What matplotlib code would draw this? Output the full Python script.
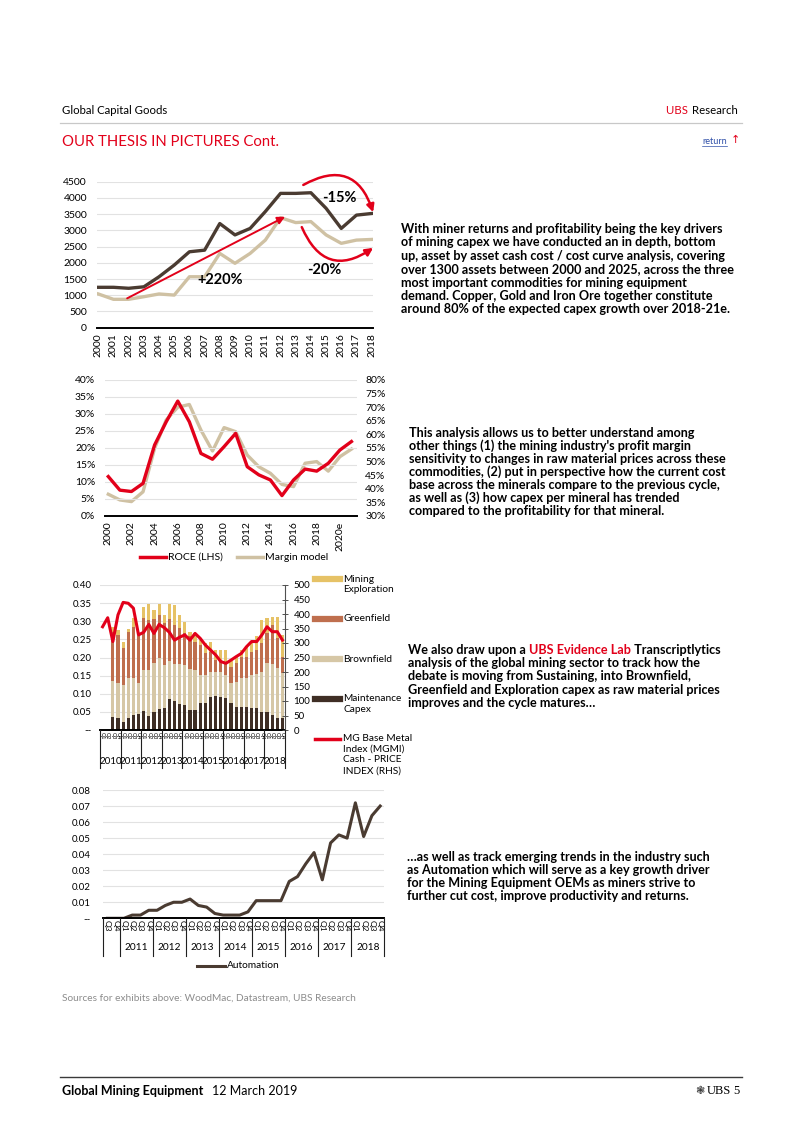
import matplotlib
matplotlib.use('Agg')
import matplotlib.pyplot as plt
from matplotlib.lines import Line2D
from matplotlib.transforms import blended_transform_factory
import numpy as np

W, H = 802, 1133
NARROW = ['Liberation Sans Narrow', 'Lato', 'DejaVu Sans']
REG = ['Lato', 'DejaVu Sans']
plt.rcParams['font.family'] = REG

# ---------------- data ----------------
# Chart 1: capex (US$)
years_capex = list(range(2000, 2019))
capex_dark = [1245, 1245, 1215, 1260, 1570, 1930, 2340, 2390, 3210, 2860, 3060,
              3580, 4140, 4140, 4160, 3680, 3060, 3470, 3520]
capex_light = [1040, 875, 875, 955, 1040, 1005, 1570, 1570, 2290, 1985, 2290,
               2700, 3390, 3240, 3270, 2860, 2600, 2700, 2720]

# Chart 2: ROCE vs margin model
years_roce = list(range(2000, 2022))
roce = [11.6, 7.6, 7.2, 9.6, 20.9, 27.7, 33.8, 27.7, 18.4, 16.7, 20.4, 24.3,
        14.5, 12.1, 10.6, 6.0, 10.6, 13.8, 13.2, 15.5, 19.4, 21.9]
margin_model = [38.0, 35.9, 35.3, 38.9, 54.9, 65.3, 70.0, 71.0, 61.6, 53.9, 62.5,
                61.0, 52.4, 48.1, 45.7, 41.6, 40.8, 49.4, 50.0, 46.5, 51.8, 54.6]
roce_ticks = [2000, 2002, 2004, 2006, 2008, 2010, 2012, 2014, 2016, 2018, 2020]
roce_ticklabels = ['2000', '2002', '2004', '2006', '2008', '2010', '2012', '2014',
                   '2016', '2018', '2020e']

# Chart 3: capex mentions by type (Q3 2010 - Q4 2018) and MGMI index (Q1 2010 - Q4 2018)
cap_years = ['2010', '2011', '2012', '2013', '2014', '2015', '2016', '2017', '2018']
quarters = ['Q1', 'Q2', 'Q3', 'Q4']
maintenance = [0.037, 0.032, 0.023, 0.034, 0.041, 0.044, 0.053, 0.040, 0.051, 0.058,
               0.062, 0.086, 0.080, 0.071, 0.069, 0.055, 0.055, 0.074, 0.075, 0.092,
               0.094, 0.092, 0.087, 0.074, 0.063, 0.064, 0.064, 0.060, 0.062, 0.051,
               0.051, 0.041, 0.034, 0.034]
brownfield = [0.098, 0.097, 0.101, 0.109, 0.103, 0.087, 0.113, 0.126, 0.133, 0.140,
              0.117, 0.103, 0.101, 0.110, 0.110, 0.112, 0.111, 0.078, 0.077, 0.069,
              0.065, 0.069, 0.065, 0.055, 0.070, 0.079, 0.079, 0.092, 0.092, 0.110,
              0.133, 0.140, 0.138, 0.122]
greenfield = [0.135, 0.133, 0.103, 0.128, 0.141, 0.127, 0.142, 0.138, 0.122, 0.119,
              0.115, 0.116, 0.109, 0.101, 0.088, 0.091, 0.078, 0.083, 0.060, 0.053,
              0.034, 0.032, 0.032, 0.046, 0.051, 0.059, 0.059, 0.064, 0.067, 0.078,
              0.083, 0.109, 0.081, 0.046]
exploration = [0.015, 0.014, 0.017, 0.009, 0.023, 0.009, 0.032, 0.043, 0.025, 0.030,
               0.023, 0.042, 0.055, 0.035, 0.032, 0.013, 0.023, 0.013, 0.027, 0.030,
               0.028, 0.028, 0.037, 0.014, 0.018, 0.019, 0.028, 0.028, 0.037, 0.065,
               0.041, 0.023, 0.060, 0.060]
mgmi = [356, 387, 305, 397, 440, 437, 420, 328, 337, 364, 333, 364, 353, 337, 310,
        320, 328, 310, 333, 316, 293, 276, 259, 236, 230, 241, 253, 264, 287, 305,
        305, 328, 356, 339, 339, 310]

# Chart 4: Automation mentions (Q3 2010 - Q4 2018)
auto_years = ['', '2011', '2012', '2013', '2014', '2015', '2016', '2017', '2018']
automation = [0.000, 0.000, 0.000, 0.002, 0.002, 0.005, 0.005, 0.008, 0.010, 0.010,
              0.012, 0.008, 0.007, 0.003, 0.002, 0.002, 0.002, 0.004, 0.011, 0.011,
              0.011, 0.011, 0.023, 0.026, 0.034, 0.041, 0.024, 0.047, 0.052, 0.050,
              0.072, 0.051, 0.064, 0.070]

# ---------------- style ----------------
RED = '#E2001A'
DARK = '#4A3B31'
TAN = '#CFC1A3'
GRID = '#E2E2E2'
C_EXPL = '#E6C266'
C_GREEN = '#BF6F4E'
C_BROWN = '#D6C7A6'
C_MAINT = '#3F2E25'

fig = plt.figure(figsize=(W / 100, H / 100), dpi=100)


def add_ax(l, t, r, b):
    return fig.add_axes([l / W, 1 - b / H, (r - l) / W, (b - t) / H])


def T(x, y, s, size, ha='left', va='center', color='black', weight='normal',
      family=REG, **kw):
    return fig.text(x / W, 1 - y / H, s, fontsize=size, ha=ha, va=va, color=color,
                    fontweight=weight, family=family, **kw)


def hline(x0, x1, y, color, lw):
    fig.add_artist(Line2D([x0 / W, x1 / W], [1 - y / H, 1 - y / H], color=color, lw=lw))


def clean(ax):
    for s in ['top', 'right', 'left']:
        ax.spines[s].set_visible(False)
    ax.spines['bottom'].set_color('black')
    ax.spines['bottom'].set_linewidth(1.4)
    ax.tick_params(length=0)
    ax.grid(axis='y', color=GRID, lw=0.8)
    ax.set_axisbelow(True)


# ---------------- header ----------------
T(62, 110, 'Global Capital Goods', 8.2, family=NARROW)
t_res = T(738, 110, 'Research', 8.2, ha='right', family=NARROW)
fig.canvas.draw()
r = fig.canvas.get_renderer()
bb = t_res.get_window_extent(renderer=r)
T(bb.x0 - 1, 110, 'UBS ', 8.2, ha='right', color=RED, family=NARROW)
hline(60, 742, 123, '#C8C8C8', 0.9)
T(62, 142, 'OUR THESIS IN PICTURES Cont.', 10.7, color=RED, family=NARROW)
t_ret = T(727, 141, 'return', 6.5, ha='right', color='#2F4FA8', family=NARROW)
bb = t_ret.get_window_extent(renderer=r)
hline(bb.x0, bb.x1, 146, '#2F4FA8', 0.5)
T(735, 140, '↑', 8, ha='center', color=RED, family=['DejaVu Sans'])

# ---------------- chart 1 ----------------
ax1 = add_ax(96.7, 181.7, 373, 327.7)
clean(ax1)
ax1.plot(years_capex, capex_light, color=TAN, lw=2.4, solid_joinstyle='round')
ax1.plot(years_capex, capex_dark, color=DARK, lw=2.4, solid_joinstyle='round')
ax1.set_xlim(1999.895, 2018.09)
ax1.set_ylim(0, 4500)
ax1.set_yticks(np.arange(0, 4501, 500))
ax1.set_xticks(years_capex)
ax1.set_xticklabels([str(y) for y in years_capex], rotation=90, fontsize=7.5)
ax1.tick_params(axis='y', labelsize=7.5, pad=7)
ax1.tick_params(axis='x', pad=4)
ax1.annotate('', xy=(2012.3, 3420), xytext=(2001.9, 905), annotation_clip=False,
             arrowprops=dict(arrowstyle='-|>', color=RED, lw=1.4, mutation_scale=11,
                             shrinkA=0, shrinkB=0))
ax1.annotate('', xy=(2018.1, 3560), xytext=(2013.5, 4400), annotation_clip=False,
             arrowprops=dict(arrowstyle='-|>', color=RED, lw=1.8, mutation_scale=11,
                             shrinkA=0, shrinkB=0, connectionstyle='arc3,rad=-0.6'))
ax1.annotate('', xy=(2018.1, 2460), xytext=(2013.4, 3100), annotation_clip=False,
             arrowprops=dict(arrowstyle='-|>', color=RED, lw=1.8, mutation_scale=11,
                             shrinkA=0, shrinkB=0, connectionstyle='arc3,rad=0.6'))
ax1.text(2008.0, 1470, '+220%', fontsize=10.5, fontweight='bold', ha='center', va='center')
ax1.text(2015.9, 3990, '-15%', fontsize=10.5, fontweight='bold', ha='center', va='center')
ax1.text(2014.9, 1790, '-20%', fontsize=10.5, fontweight='bold', ha='center', va='center')

# ---------------- chart 2 ----------------
ax2 = add_ax(105, 380, 357, 516)
clean(ax2)
ax2r = ax2.twinx()
for s in ['top', 'right', 'left', 'bottom']:
    ax2r.spines[s].set_visible(False)
ax2r.plot(years_roce, margin_model, color=TAN, lw=2.4, solid_joinstyle='round')
ax2.plot(years_roce, roce, color=RED, lw=2.4, solid_joinstyle='round')
ax2.set_zorder(ax2r.get_zorder() + 1)
ax2.patch.set_visible(False)
ax2.set_xlim(1999.715, 2021.48)
ax2.set_ylim(0, 40)
ax2r.set_ylim(30, 80)
ax2.set_yticks(np.arange(0, 41, 5))
ax2.set_yticklabels(['%d%%' % v for v in np.arange(0, 41, 5)])
ax2r.set_yticks(np.arange(30, 81, 5))
ax2r.set_yticklabels(['%d%%' % v for v in np.arange(30, 81, 5)])
ax2.set_xticks(roce_ticks)
ax2.set_xticklabels(roce_ticklabels, rotation=90, fontsize=7.5)
ax2.tick_params(axis='y', labelsize=7.5, pad=7)
ax2.tick_params(axis='x', pad=4)
ax2r.tick_params(length=0, labelsize=7.5, pad=6)
# legend
fig.add_artist(Line2D([140 / W, 166 / W], [1 - 557 / H] * 2, color=RED, lw=2.5))
T(168, 557, 'ROCE (LHS)', 7.5)
fig.add_artist(Line2D([237 / W, 263 / W], [1 - 557 / H] * 2, color=TAN, lw=2.5))
T(265, 557, 'Margin model', 7.5)

# ---------------- chart 3 ----------------
ax3 = add_ax(100, 585, 285, 730)
clean(ax3)
ax3r = ax3.twinx()
for s in ['top', 'left', 'bottom']:
    ax3r.spines[s].set_visible(False)
ax3r.spines['right'].set_color('#505050')
ax3r.spines['right'].set_linewidth(0.8)
n_q = len(cap_years) * 4
idx_all = np.arange(n_q)
idx_bar = idx_all[n_q - len(maintenance):]
m = np.array(maintenance)
b_ = np.array(brownfield)
g = np.array(greenfield)
e = np.array(exploration)
bw = 0.62
ax3.bar(idx_bar, m, bw, color=C_MAINT, lw=0)
ax3.bar(idx_bar, b_, bw, bottom=m, color=C_BROWN, lw=0)
ax3.bar(idx_bar, g, bw, bottom=m + b_, color=C_GREEN, lw=0)
ax3.bar(idx_bar, e, bw, bottom=m + b_ + g, color=C_EXPL, lw=0)
ax3r.plot(idx_all, mgmi, color=RED, lw=2.2, solid_joinstyle='round')
ax3.set_xlim(-0.5, n_q - 0.5)
ax3.set_ylim(0, 0.40)
ax3r.set_ylim(0, 500)
yt3 = np.arange(0, 0.401, 0.05)
ax3.set_yticks(yt3)
ax3.set_yticklabels(['--'] + ['%.2f' % v for v in yt3[1:]])
ax3.tick_params(axis='y', labelsize=7, pad=6)
ax3r.set_yticks(np.arange(0, 501, 50))
ax3r.tick_params(axis='y', labelsize=7, direction='inout', length=4, width=0.7,
                 color='#505050', pad=4)
ax3.set_xticks(idx_all)
ax3.set_xticklabels(quarters * len(cap_years), rotation=270, fontsize=3.8)
ax3.tick_params(axis='x', pad=1.5)
bl3 = blended_transform_factory(ax3.transData, fig.transFigure)
for k in range(len(cap_years) + 1):
    xb = -0.5 + 4 * k
    fig.add_artist(Line2D([xb, xb], [1 - 730 / H, 1 - 768 / H], transform=bl3,
                          color='#202020', lw=0.8))
for k, yl in enumerate(cap_years):
    fig.text(1.5 + 4 * k, 1 - 762 / H, yl, transform=bl3, ha='center', va='center',
             fontsize=7, family=NARROW)
# legend
leg3 = [(579, C_EXPL, 4.5, ['Mining', 'Exploration']),
        (619, C_GREEN, 4.5, ['Greenfield']),
        (659, C_BROWN, 4.5, ['Brownfield']),
        (698.5, C_MAINT, 4.5, ['Maintenance', 'Capex']),
        (738.5, RED, 2.5, ['MG Base Metal', 'Index (MGMI)', 'Cash - PRICE', 'INDEX (RHS)'])]
for y0, col, lw, lines in leg3:
    fig.add_artist(Line2D([315 / W, 340 / W], [1 - y0 / H] * 2, color=col, lw=lw))
    for j, s in enumerate(lines):
        T(343, y0 + j * 10.7, s, 7.3, family=NARROW)

# ---------------- chart 4 ----------------
ax4 = add_ax(103.3, 790, 384.3, 918.3)
clean(ax4)
n_a = len(automation)
idx_a = np.arange(n_a)
ax4.plot(idx_a, automation, color=DARK, lw=2.2, solid_joinstyle='round')
ax4.set_xlim(-0.5, n_a - 0.5)
ax4.set_ylim(0, 0.08)
yt4 = np.arange(0, 0.0801, 0.01)
ax4.set_yticks(yt4)
ax4.set_yticklabels(['--'] + ['%.2f' % v for v in yt4[1:]])
ax4.tick_params(axis='y', labelsize=7, pad=9)
q_labels4 = (quarters * len(auto_years))[4 * len(auto_years) - n_a:]
ax4.set_xticks(idx_a)
ax4.set_xticklabels(q_labels4, rotation=270, fontsize=6, family=NARROW)
ax4.tick_params(axis='x', pad=1.5)
bl4 = blended_transform_factory(ax4.transData, fig.transFigure)
first = n_a - 4 * (len(auto_years) - 1)  # quarters in the first (partial) year
bounds = [-0.5] + [first - 0.5 + 4 * k for k in range(len(auto_years))]
for xb in bounds:
    fig.add_artist(Line2D([xb, xb], [1 - 918.3 / H, 1 - 956 / H], transform=bl4,
                          color='#202020', lw=0.8))
for k, yl in enumerate(auto_years[1:]):
    fig.text(first - 0.5 + 4 * k + 2, 1 - 947 / H, yl, transform=bl4, ha='center',
             va='center', fontsize=7.3, family=NARROW)
fig.add_artist(Line2D([197 / W, 225 / W], [1 - 966 / H] * 2, color=DARK, lw=2.2))
T(227, 966, 'Automation', 7.3, family=NARROW)

# ---------------- right-hand text ----------------
BOLD_SIZE = 9.1


def para(x, y0, step, lines):
    for i, s in enumerate(lines):
        T(x, y0 + i * step, s, BOLD_SIZE, weight='bold')


para(401, 229, 13.4, [
    'With miner returns and profitability being the key drivers',
    'of mining capex we have conducted an in depth, bottom',
    'up, asset by asset cash cost / cost curve analysis, covering',
    'over 1300 assets between 2000 and 2025, across the three',
    'most important commodities for mining equipment',
    'demand. Copper, Gold and Iron Ore together constitute',
    'around 80% of the expected capex growth over 2018-21e.'])

para(409, 433, 13.0, [
    'This analysis allows us to better understand among',
    "other things (1) the mining industry's profit margin",
    'sensitivity to changes in raw material prices across these',
    'commodities, (2) put in perspective how the current cost',
    'base across the minerals compare to the previous cycle,',
    'as well as (3) how capex per mineral has trended',
    'compared to the profitability for that mineral.'])

t_a = T(408, 650, 'We also draw upon a ', BOLD_SIZE, weight='bold')
bb = t_a.get_window_extent(renderer=r)
t_b = T(bb.x1, 650, 'UBS Evidence Lab', BOLD_SIZE, weight='bold', color=RED)
bb = t_b.get_window_extent(renderer=r)
T(bb.x1, 650, ' Transcriptlytics', BOLD_SIZE, weight='bold')
para(408, 663.3, 13.2, [
    'analysis of the global mining sector to track how the',
    'debate is moving from Sustaining, into Brownfield,',
    'Greenfield and Exploration capex as raw material prices',
    'improves and the cycle matures\u2026'])

para(407, 857, 13.1, [
    '\u2026as well as track emerging trends in the industry such',
    'as Automation which will serve as a key growth driver',
    'for the Mining Equipment OEMs as miners strive to',
    'further cut cost, improve productivity and returns.'])

# ---------------- footer ----------------
T(62, 998, 'Sources for exhibits above: WoodMac, Datastream, UBS Research', 7.3,
  color='#8C8C8C', family=NARROW)
hline(60, 742, 1077, '#3A3A3A', 1.0)
t_f = T(62, 1091, 'Global Mining Equipment', 9, weight='bold', family=NARROW)
bb = t_f.get_window_extent(renderer=r)
T(bb.x1 + 9, 1091, '12 March 2019', 9, family=NARROW)
T(740, 1091, '5', 9, ha='right', family=['Liberation Serif', 'DejaVu Serif'])
t_ubs = T(731, 1091, 'UBS', 9, ha='right', family=['Liberation Serif', 'DejaVu Serif'])
bb = t_ubs.get_window_extent(renderer=r)
T(bb.x0 - 2, 1091, '\u2743', 8, ha='right', color='#333333', family=['DejaVu Sans'])

fig.savefig('out.png', dpi=100)
